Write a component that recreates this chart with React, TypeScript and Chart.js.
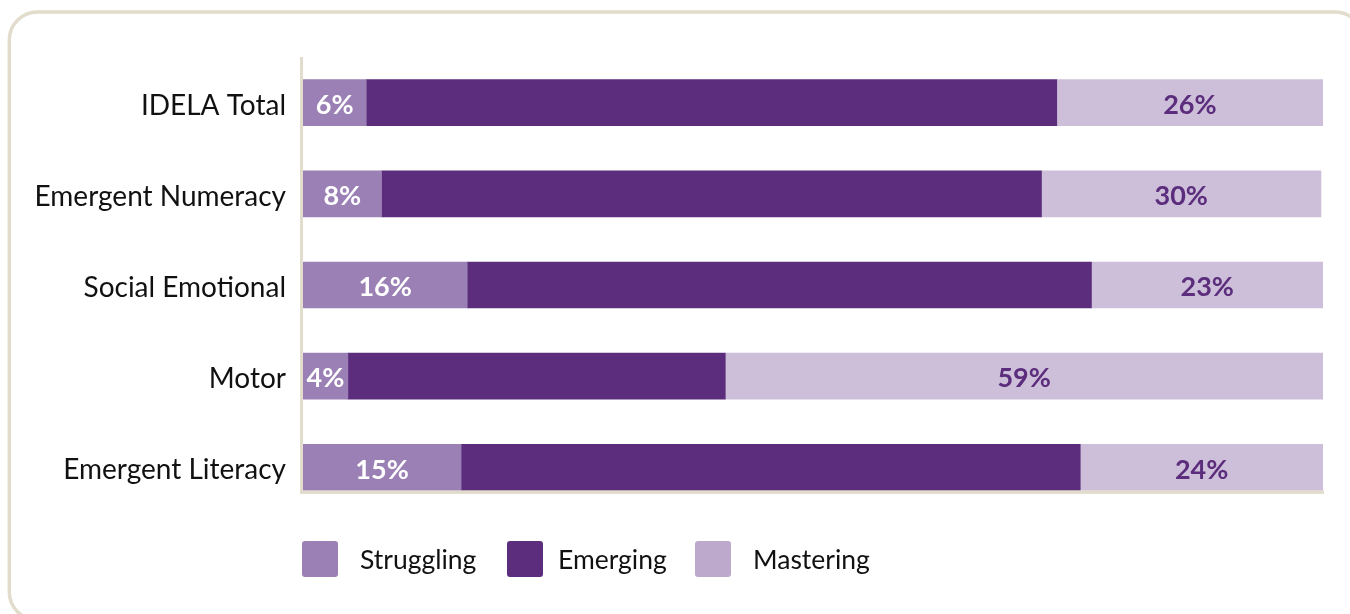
import React, { useEffect, useRef } from "react";
import { Chart, registerables } from "chart.js";

Chart.register(...registerables);

const categories = ["IDELA Total", "Emergent Numeracy", "Social Emotional", "Motor", "Emergent Literacy"];
const seriesNames = ["Struggling", "Emerging", "Mastering"];
const struggling = [6.2, 7.7, 16.1, 4.4, 15.5];
const emerging = [67.7, 64.7, 61.2, 37.0, 60.7];
const mastering = [26.1, 27.4, 22.7, 58.6, 23.8];
const strugglingLabels = ["6%", "8%", "16%", "4%", "15%"];
const masteringLabels = ["26%", "30%", "23%", "59%", "24%"];

const COLORS = ["#9b80b5", "#5b2d7c", "#cdbfd9"];
const LEGEND_COLORS = ["#9b80b5", "#5b2d7c", "#bca9cc"];
const BEIGE = "#e2dccc";
const FONT = "Lato, 'DejaVu Sans', sans-serif";

const cardPlugin = {
  id: "card",
  beforeDraw(chart: any) {
    const ctx = chart.ctx;
    ctx.save();
    ctx.fillStyle = "#ffffff";
    ctx.fillRect(0, 0, chart.width, chart.height);
    ctx.strokeStyle = BEIGE;
    ctx.lineWidth = 3.5;
    ctx.beginPath();
    (ctx as any).roundRect(9.3, 12, 1363 - 9.3, 620 - 12, 28);
    ctx.stroke();
    ctx.restore();
  },
};

const axisLinesPlugin = {
  id: "axisLines",
  afterDatasetsDraw(chart: any) {
    const ctx = chart.ctx;
    const area = chart.chartArea;
    const meta = chart.getDatasetMeta(0);
    const last = meta.data[meta.data.length - 1];
    const bottom = last.y + last.height / 2;
    ctx.save();
    ctx.fillStyle = BEIGE;
    ctx.fillRect(area.left - 3, area.top, 3, bottom + 3.5 - area.top);
    ctx.fillRect(area.left - 3, bottom, area.right - area.left + 4, 3.5);
    ctx.restore();
  },
};

const valueLabelsPlugin = {
  id: "valueLabels",
  afterDatasetsDraw(chart: any) {
    const ctx = chart.ctx;
    ctx.save();
    ctx.font = `bold 27px ${FONT}`;
    ctx.textAlign = "center";
    ctx.textBaseline = "middle";
    const specs = [
      { ds: 0, labels: strugglingLabels, color: "#ffffff" },
      { ds: 2, labels: masteringLabels, color: "#5b2d7c" },
    ];
    specs.forEach((s) => {
      const meta = chart.getDatasetMeta(s.ds);
      meta.data.forEach((bar: any, i: number) => {
        const cx = (bar.x + bar.base) / 2;
        ctx.fillStyle = s.color;
        ctx.fillText(s.labels[i], cx, bar.y + 2.5);
      });
    });
    ctx.restore();
  },
};

const legendPlugin = {
  id: "customLegend",
  afterDraw(chart: any) {
    const ctx = chart.ctx;
    const xs = [302, 507, 695];
    const textGap = [22, 15, 22];
    const top = 541;
    const size = 36;
    ctx.save();
    ctx.font = `26.5px ${FONT}`;
    ctx.textBaseline = "middle";
    ctx.textAlign = "left";
    seriesNames.forEach((name, i) => {
      ctx.fillStyle = LEGEND_COLORS[i];
      ctx.beginPath();
      (ctx as any).roundRect(xs[i], top, size, size, 3);
      ctx.fill();
      ctx.fillStyle = "#111111";
      ctx.fillText(name, xs[i] + size + textGap[i], top + size / 2 + 1);
    });
    ctx.restore();
  },
};

export default function App() {
  const ref = useRef<HTMLCanvasElement | null>(null);

  useEffect(() => {
    if (!ref.current) return;
    const data = [struggling, emerging, mastering];
    const chart = new Chart(ref.current, {
      type: "bar",
      data: {
        labels: categories,
        datasets: seriesNames.map((name, i) => ({
          label: name,
          data: data[i],
          backgroundColor: COLORS[i],
          borderWidth: 0,
          barThickness: 46,
        })),
      },
      options: {
        indexAxis: "y",
        responsive: false,
        animation: false,
        devicePixelRatio: 1,
        layout: { padding: { left: 0, right: 27, top: 57, bottom: 101 } },
        plugins: {
          legend: { display: false },
          tooltip: { enabled: false },
        },
        scales: {
          x: {
            stacked: true,
            min: 0,
            max: 100,
            display: false,
          },
          y: {
            stacked: true,
            grid: { display: false, drawTicks: false },
            border: { display: false },
            ticks: {
              color: "#111111",
              font: { family: FONT, size: 28 },
              padding: 17,
              labelOffset: 3,
            },
            afterFit(scale: any) {
              scale.width = 303;
            },
          },
        },
      } as any,
      plugins: [cardPlugin, axisLinesPlugin, valueLabelsPlugin, legendPlugin],
    });
    return () => chart.destroy();
  }, []);

  return (
    <div style={{ position: "fixed", left: 0, top: 0, width: 1350, height: 614, overflow: "hidden", background: "#fff" }}>
      <canvas ref={ref} width={1350} height={614} style={{ display: "block", width: 1350, height: 614 }} />
    </div>
  );
}
